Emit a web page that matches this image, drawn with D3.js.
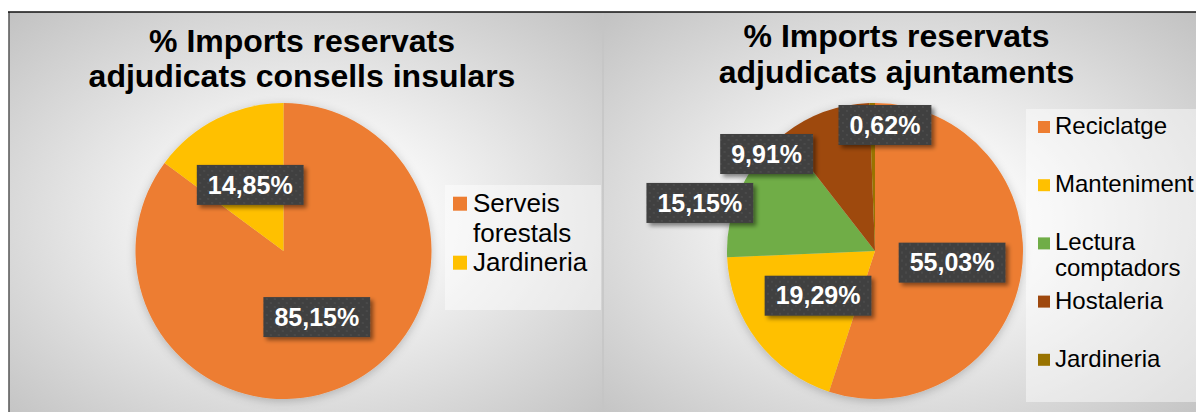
<!DOCTYPE html>
<html>
<head>
<meta charset="utf-8">
<script src="https://cdn.jsdelivr.net/npm/d3@7"></script>
<style>
  html, body { margin: 0; padding: 0; background: #ffffff; }
  svg { display: block; }
  text { font-family: "Liberation Sans", Arial, sans-serif; }
</style>
</head>
<body>
<svg id="chart" width="1196" height="412"></svg>
<script>
// ---------------- DATA ----------------
const leftTitle = ["% Imports reservats", "adjudicats consells insulars"];
const leftCategories = ["Serveis forestals", "Jardineria"];
const leftValues = [85.15, 14.85];

const rightTitle = ["% Imports reservats", "adjudicats ajuntaments"];
const rightCategories = ["Reciclatge", "Manteniment", "Lectura comptadors", "Hostaleria", "Jardineria"];
const rightValues = [55.03, 19.29, 15.15, 9.91, 0.62];

// ---------------- STYLE / LAYOUT ----------------
const leftColors = ["#ED7D31", "#FFC000"];
const rightColors = ["#ED7D31", "#FFC000", "#70AD47", "#9E480E", "#997300"];

const fmt = v => d3.format(".2f")(v).replace(".", ",") + "%";

const svg = d3.select("#chart");
const defs = svg.append("defs");

// background gradient
const grad = defs.append("radialGradient").attr("id", "bg")
  .attr("cx", "0.5").attr("cy", "0.52").attr("r", "0.72");
grad.append("stop").attr("offset", "0").attr("stop-color", "#ffffff");
grad.append("stop").attr("offset", "0.3").attr("stop-color", "#f6f6f6");
grad.append("stop").attr("offset", "1").attr("stop-color", "#c2c2c2");

// label pattern
const pat = defs.append("pattern").attr("id", "dots")
  .attr("width", 8).attr("height", 8).attr("patternUnits", "userSpaceOnUse");
pat.append("rect").attr("width", 8).attr("height", 8).attr("fill", "#404040");
pat.append("circle").attr("cx", 2).attr("cy", 2).attr("r", 0.9).attr("fill", "#4f4f4f");
pat.append("circle").attr("cx", 6).attr("cy", 6).attr("r", 0.9).attr("fill", "#4f4f4f");

const shadow = defs.append("filter").attr("id", "lblShadow")
  .attr("x", "-20%").attr("y", "-20%").attr("width", "150%").attr("height", "160%");
shadow.append("feDropShadow").attr("dx", 3).attr("dy", 3).attr("stdDeviation", 2.2)
  .attr("flood-color", "#000").attr("flood-opacity", 0.45);

const pieShadow = defs.append("filter").attr("id", "pieShadow")
  .attr("x", "-20%").attr("y", "-20%").attr("width", "140%").attr("height", "140%");
pieShadow.append("feDropShadow").attr("dx", 0).attr("dy", 2).attr("stdDeviation", 5)
  .attr("flood-color", "#000").attr("flood-opacity", 0.22);

// panels
const panels = [
  { x: 9, w: 594 },
  { x: 603, w: 593 }
];
panels.forEach(p => {
  svg.append("rect").attr("x", p.x).attr("y", 12).attr("width", p.w).attr("height", 400)
    .attr("fill", "url(#bg)");
});
svg.append("line").attr("x1", 603).attr("x2", 603).attr("y1", 12).attr("y2", 412)
  .attr("stroke", "#c4c4c4").attr("stroke-width", 1.5);
svg.append("line").attr("x1", 9).attr("x2", 9).attr("y1", 12).attr("y2", 412)
  .attr("stroke", "#555").attr("stroke-width", 1.5);
svg.append("line").attr("x1", 8).attr("x2", 1196).attr("y1", 12).attr("y2", 12)
  .attr("stroke", "#111").attr("stroke-width", 1.5);

function drawPie(cfg) {
  const g = svg.append("g");
  // title
  cfg.title.forEach((t, i) => {
    g.append("text").attr("x", cfg.titleX).attr("y", cfg.titleY + i * 35.6)
      .attr("text-anchor", "middle").attr("font-size", 32).attr("font-weight", "bold")
      .attr("fill", "#000").text(t);
  });

  const pie = d3.pie().sort(null).value(d => d)(cfg.values);
  const r = cfg.r;
  const arc = d3.arc().innerRadius(0).outerRadius(r);
  const labelArc = d3.arc().innerRadius(r * 0.5).outerRadius(r * 0.5);

  const pg = g.append("g").attr("transform", `translate(${cfg.cx},${cfg.cy})`)
    .attr("filter", "url(#pieShadow)");
  pg.selectAll("path").data(pie).join("path")
    .attr("d", arc).attr("fill", (d, i) => cfg.colors[i]);

  // legend background
  g.append("rect").attr("x", cfg.legend.bx).attr("y", cfg.legend.by)
    .attr("width", cfg.legend.bw).attr("height", cfg.legend.bh)
    .attr("fill", "#ffffff").attr("fill-opacity", 0.45);

  // legend items
  cfg.categories.forEach((c, i) => {
    const lines = cfg.legend.lines[i];
    const base = cfg.legend.y0 + i * cfg.legend.step;
    g.append("rect").attr("x", cfg.legend.sx).attr("y", base - cfg.legend.sq - 1)
      .attr("width", cfg.legend.sq).attr("height", cfg.legend.sq).attr("fill", cfg.colors[i]);
    lines.forEach((ln, j) => {
      g.append("text").attr("x", cfg.legend.tx).attr("y", base + j * cfg.legend.lh)
        .attr("font-size", cfg.legend.fs).attr("fill", "#000").text(ln);
    });
  });

  // labels
  const lg = g.append("g");
  pie.forEach((d, i) => {
    const c = labelArc.centroid(d);
    const nudge = cfg.nudges[i] || [0, 0];
    const x = cfg.cx + c[0] + nudge[0];
    const y = cfg.cy + c[1] + nudge[1];
    const grp = lg.append("g").attr("transform", `translate(${x},${y})`);
    const txt = grp.append("text").attr("text-anchor", "middle").attr("dy", "0.35em")
      .attr("font-size", 25).attr("font-weight", "bold").attr("fill", "#fff")
      .text(fmt(cfg.values[i]));
    const w = txt.node().getComputedTextLength() + 22;
    grp.insert("rect", "text").attr("x", -w / 2).attr("y", -20).attr("width", w).attr("height", 40)
      .attr("fill", "url(#dots)").attr("filter", "url(#lblShadow)");
  });
}

drawPie({
  title: leftTitle, titleX: 302, titleY: 51.7,
  categories: leftCategories, values: leftValues, colors: leftColors,
  cx: 283.5, cy: 251, r: 148,
  nudges: [[0, 0], [0, 0]],
  legend: { bx: 445, by: 185, bw: 156, bh: 125, sx: 453, sq: 14, tx: 473, y0: 211.7, step: 59, lh: 30, fs: 26,
            lines: [["Serveis", "forestals"], ["Jardineria"]] }
});

drawPie({
  title: rightTitle, titleX: 896.5, titleY: 47.3,
  categories: rightCategories, values: rightValues, colors: rightColors,
  cx: 875, cy: 251, r: 148,
  nudges: [[4, 0], [2, 0], [-108, -17], [-83, -27.5], [11.4, -52]],
  legend: { bx: 1026, by: 109, bw: 170, bh: 293, sx: 1038, sq: 12, tx: 1055, y0: 134, step: 58.2, lh: 25.7, fs: 24,
            lines: [["Reciclatge"], ["Manteniment"], ["Lectura", "comptadors"], ["Hostaleria"], ["Jardineria"]] }
});
</script>
</body>
</html>
